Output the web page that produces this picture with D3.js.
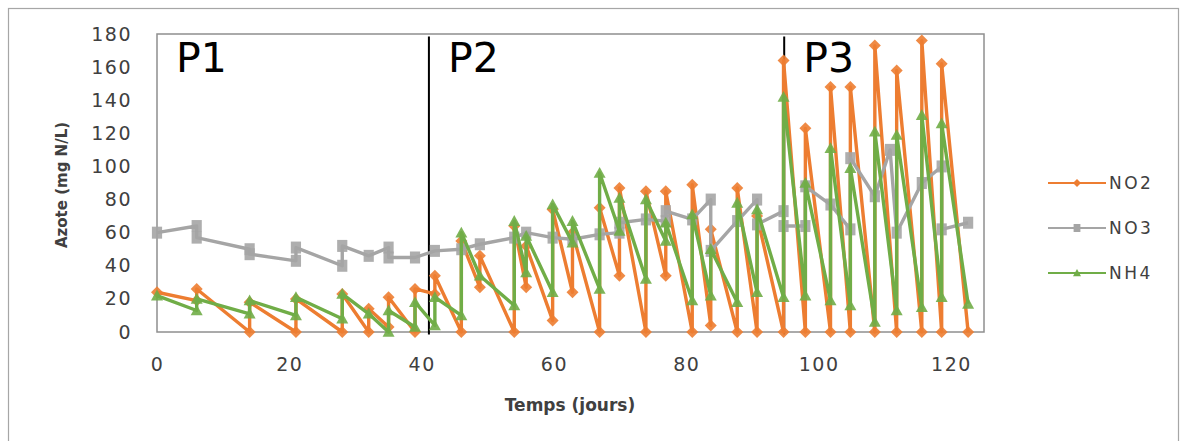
<!DOCTYPE html>
<html><head><meta charset="utf-8">
<script src="https://cdn.jsdelivr.net/npm/d3@7"></script>
<style>body{margin:0;background:#fff} svg{display:block}</style>
</head><body><svg id="c" width="1187" height="441"></svg>
<script>
// ---------- data ----------
const xTicks = [0, 20, 40, 60, 80, 100, 120];
const yTicks = [0, 20, 40, 60, 80, 100, 120, 140, 160, 180];
const seriesNames = ["NO2", "NO3", "NH4"];
const periodLabels = ["P1", "P2", "P3"];
const periodStarts = [0, 41.1, 94.8];

const no2Days = [0,6,6,14,14,21,21,28,28,32,32,35,35,39,39,42,42,46,46,48.8,48.8,54,54,55.8,55.8,59.8,59.8,62.8,62.8,66.9,66.9,69.9,69.9,73.9,73.9,76.9,76.9,80.9,80.9,83.7,83.7,87.7,87.7,90.7,90.7,94.7,94.7,98,98,101.8,101.8,104.8,104.8,108.5,108.5,111.8,111.8,115.6,115.6,118.6,118.6,122.6];
const no2Vals = [24,19,26,0,18,0,20,0,23,0,14,3,21,0,26,23,34,0,55,27,46,0,64,27,52,7,74,24,60,0,75,34,87,0,85,34,85,0,89,4,62,0,87,0,70,0,164,0,123,0,148,0,148,0,173,0,158,0,176,0,162,0];

const no3Days = [0,6,6,14,14,21,21,28,28,32,35,35,39,42,46,48.8,54,55.8,59.8,62.8,66.9,69.9,69.9,73.9,76.9,76.9,80.9,83.7,83.7,87.7,90.7,90.7,94.7,94.7,98,98,101.8,104.8,104.8,108.5,110.8,111.8,115.6,118.6,118.6,122.6];
const no3Vals = [60,64,57,50,47,43,51,40,52,46,51,45,45,49,50,53,57,60,57,56,59,60,66,68,67,73,68,80,49,67,80,65,73,64,64,88,77,62,105,82,110,60,90,100,62,66];

const nh4Days = [0,6,6,14,14,21,21,28,28,32,35,35,39,39,42,42,46,46,48.8,54,54,55.8,55.8,59.8,59.8,62.8,62.8,66.9,66.9,69.9,69.9,73.9,73.9,76.9,76.9,80.9,80.9,83.7,83.7,87.7,87.7,90.7,90.7,94.7,94.7,98,98,101.8,101.8,104.8,104.8,108.5,108.5,111.8,111.8,115.6,115.6,118.6,118.6,122.6];
const nh4Vals = [22,13,20,11,19,10,21,8,23,11,0,13,3,18,4,21,10,60,34,16,67,36,58,24,77,54,67,26,96,61,81,32,80,55,66,19,71,22,50,18,78,24,74,21,142,22,90,19,111,16,99,6,121,13,119,15,131,21,126,17];

// ---------- setup ----------
const svg = d3.select("#c");
const W = 1187, H = 441;
const colors = {NO2: "#ED7D31", NO3: "#A5A5A5", NH4: "#70AD47"};
const x = d3.scaleLinear().domain([0, 125]).range([157, 984]);
const y = d3.scaleLinear().domain([0, 180]).range([332, 34]);

svg.append("rect").attr("width", W).attr("height", H).attr("fill", "#fff");
// outer chart border
svg.append("rect").attr("x", 8.5).attr("y", 8.5).attr("width", 1170).attr("height", 450)
  .attr("fill", "none").attr("stroke", "#a6a6a6").attr("stroke-width", 1.2);

// plot area border
svg.append("rect").attr("x", x(0)).attr("y", y(180)).attr("width", x(125) - x(0)).attr("height", y(0) - y(180))
  .attr("fill", "none").attr("stroke", "#8f8f8f").attr("stroke-width", 1.5);

// axes
const fontFam = "'DejaVu Sans', Verdana, sans-serif";
const xAxis = svg.append("g").attr("transform", `translate(0,${y(0)})`)
  .call(d3.axisBottom(x).tickValues(xTicks).tickSize(0).tickPadding(26).tickFormat(d3.format("d")));
const yAxis = svg.append("g").attr("transform", `translate(${x(0)},0)`)
  .call(d3.axisLeft(y).tickValues(yTicks).tickSize(0).tickPadding(25).tickFormat(d3.format("d")));
[xAxis, yAxis].forEach(a => {
  a.select(".domain").remove();
  a.selectAll("text").attr("font-family", fontFam).attr("font-size", 19).attr("fill", "#404040")
    .attr("letter-spacing", 1.5);
});

// axis titles
svg.append("text").attr("x", 570).attr("y", 411).attr("text-anchor", "middle")
  .attr("font-family", fontFam).attr("font-weight", "bold").attr("font-size", 17).attr("fill", "#404040")
  .text("Temps (jours)");
svg.append("text").attr("transform", "translate(67,185) rotate(-90)").attr("text-anchor", "middle")
  .attr("font-family", fontFam).attr("font-weight", "bold").attr("font-size", 15).attr("fill", "#404040")
  .text("Azote (mg N/L)");

// period lines and labels
periodStarts.slice(1).forEach(d => {
  svg.append("line").attr("x1", x(d)).attr("x2", x(d)).attr("y1", y(178.5)).attr("y2", y(-1.5))
    .attr("stroke", "#000").attr("stroke-width", 2);
});
periodLabels.forEach((p, i) => {
  svg.append("text").attr("x", x(periodStarts[i]) + 19).attr("y", 72)
    .attr("font-family", fontFam).attr("font-size", 41).attr("fill", "#000").text(p);
});

// marker paths
function marker(name, s) {
  if (name === "NO2") return `M0,${-s}L${s},0L0,${s}L${-s},0Z`;
  if (name === "NO3") return `M${-s*0.85},${-s}H${s*0.85}V${s}H${-s*0.85}Z`;
  return `M0,${-s}L${s},${s*0.8}L${-s},${s*0.8}Z`;
}

const seriesData = {
  NO2: no2Days.map((d, i) => ({day: d, val: no2Vals[i]})),
  NO3: no3Days.map((d, i) => ({day: d, val: no3Vals[i]})),
  NH4: nh4Days.map((d, i) => ({day: d, val: nh4Vals[i]}))
};
const line = d3.line().x(d => x(d.day)).y(d => y(d.val));

seriesNames.forEach(name => {
  const g = svg.append("g");
  g.append("path").datum(seriesData[name]).attr("d", line)
    .attr("fill", "none").attr("stroke", colors[name]).attr("stroke-width", 3.4)
    .attr("stroke-linejoin", "round");
  g.selectAll("path.m").data(seriesData[name]).enter().append("path").attr("class", "m")
    .attr("transform", d => `translate(${x(d.day)},${y(d.val)})`)
    .attr("d", marker(name, 6)).attr("fill", colors[name]).attr("opacity", 0.9);
});

// legend
const legY = [183, 228, 273];
seriesNames.forEach((name, i) => {
  const g = svg.append("g").attr("transform", `translate(0,${legY[i]})`);
  g.append("line").attr("x1", 1048).attr("x2", 1106).attr("stroke", colors[name]).attr("stroke-width", 2.2);
  g.append("path").attr("transform", "translate(1077,0)").attr("d", marker(name, 4)).attr("fill", colors[name]);
  g.append("text").attr("x", 1109).attr("y", 6).attr("font-family", fontFam).attr("font-size", 17)
    .attr("letter-spacing", 2.5).attr("fill", "#404040").text(name);
});
</script></body></html>
